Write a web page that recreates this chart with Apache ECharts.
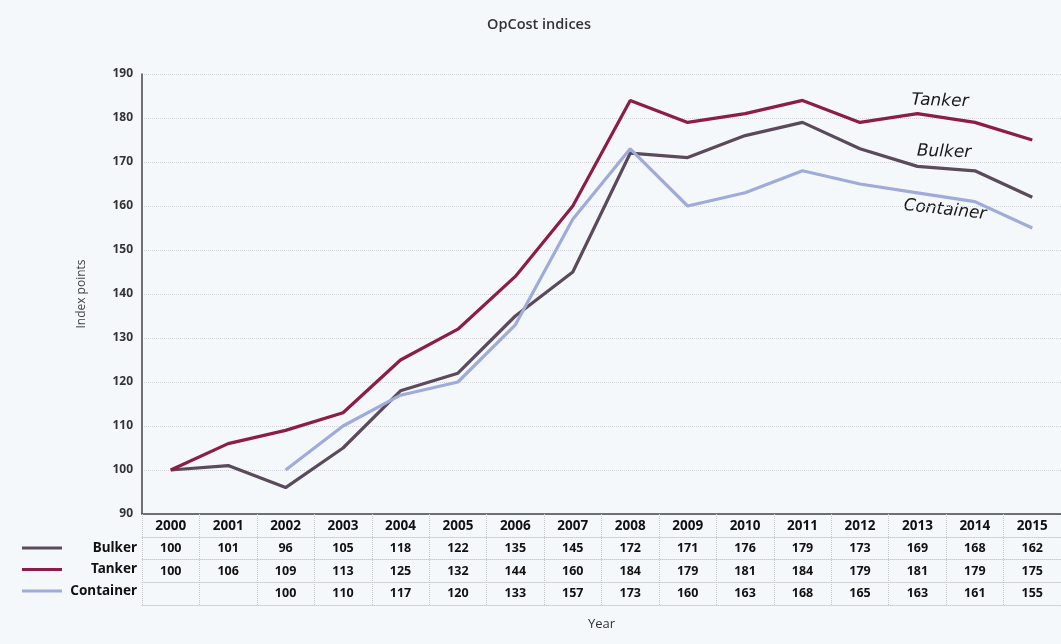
<!DOCTYPE html>
<html>
<head>
<meta charset="utf-8">
<script src="https://cdn.jsdelivr.net/npm/echarts@6/dist/echarts.min.js"></script>
<style>
  html, body { margin: 0; padding: 0; background: #f5f8fb; }
  #chart { width: 1061px; height: 644px; }
</style>
</head>
<body>
<div id="chart"></div>
<script>
// Operating cost indices by ship type, 2000–2015
const years = ['2000','2001','2002','2003','2004','2005','2006','2007','2008','2009','2010','2011','2012','2013','2014','2015'];
const bulker    = [100, 101, 96, 105, 118, 122, 135, 145, 172, 171, 176, 179, 173, 169, 168, 162];
const tanker    = [100, 106, 109, 113, 125, 132, 144, 160, 184, 179, 181, 184, 179, 181, 179, 175];
const container = [null, null, 100, 110, 117, 120, 133, 157, 173, 160, 163, 168, 165, 163, 161, 155];
const seriesNames = ['Bulker', 'Tanker', 'Container'];
const yTicks = { min: 90, max: 190, step: 10 };

const colors = ['#5a4a5c', '#8c1d45', '#9fabd8'];
const rows = [bulker, tanker, container];
const yearFont = { fontFamily: 'Noto Sans', fontWeight: 'bold', fontSize: 13.5, color: '#111' };
const valueFont = { fontFamily: 'Noto Sans', fontWeight: 'bold', fontSize: 12.5, color: '#111' };
const rowLine = { show: true, lineStyle: { color: '#c9cbd0', type: 'dotted', width: 1 } };

const chart = echarts.init(document.getElementById('chart'));

// Main category axis plus one offset axis per table row
const xAxes = [{
  type: 'category', data: years, boundaryGap: true, position: 'bottom',
  name: 'Year', nameLocation: 'middle', nameGap: 104,
  nameTextStyle: { fontFamily: 'Open Sans', fontSize: 13, color: '#333' },
  axisLine: { lineStyle: { color: '#444', width: 1.5 } },
  axisTick: { show: true, interval: 0, length: 91, lineStyle: { color: '#c4c6cb', type: 'dotted' } },
  axisLabel: Object.assign({ margin: 5, interval: 0 }, yearFont),
  splitLine: { show: false }
}];
rows.forEach((vals, r) => {
  xAxes.push({
    type: 'category', data: years, position: 'bottom', offset: 23 + r * 22.5,
    axisLine: rowLine, axisTick: { show: false },
    axisLabel: Object.assign({ margin: 5, interval: 0,
      formatter: (v, i) => (vals[i] == null ? '' : String(vals[i])) }, valueFont)
  });
});
xAxes.push({
  type: 'category', data: years, position: 'bottom', offset: 91,
  axisLine: rowLine, axisTick: { show: false }, axisLabel: { show: false }
});

// Row titles with line samples to the left of the table
const legendGraphics = [];
seriesNames.forEach((n, r) => {
  const cy = 548 + r * 21.5;
  legendGraphics.push({
    type: 'line', shape: { x1: 22, y1: cy, x2: 62, y2: cy },
    style: { stroke: colors[r], lineWidth: 3 }
  });
  legendGraphics.push({
    type: 'text', x: 137, y: cy,
    style: { text: n, align: 'right', verticalAlign: 'middle',
      font: 'bold 13.5px "Noto Sans"', fill: '#111' }
  });
});

// Hand-lettered series tags at the right end of the lines
const tagFont = 'italic 17px "DejaVu Sans"';
const tags = [
  { text: 'Tanker', x: 940, y: 101, rotation: -0.03 },
  { text: 'Bulker', x: 944, y: 152, rotation: -0.03 },
  { text: 'Container', x: 945, y: 210, rotation: -0.11 }
].map(t => ({
  type: 'text', x: t.x, y: t.y, rotation: t.rotation,
  style: { text: t.text, align: 'center', verticalAlign: 'middle', font: tagFont, fill: '#1a1a1a' }
}));

chart.setOption({
  backgroundColor: '#f5f8fb',
  animation: false,
  title: {
    text: 'OpCost indices', left: 534, top: 12, textAlign: 'center',
    textStyle: { fontFamily: 'Open Sans', fontSize: 14.5, fontWeight: 600, color: '#333' }
  },
  grid: { left: 142, right: -3, top: 74, bottom: 130, containLabel: false },
  xAxis: xAxes,
  yAxis: {
    type: 'value', min: yTicks.min, max: yTicks.max, interval: yTicks.step,
    name: 'Index points', nameLocation: 'middle', nameGap: 54, nameRotate: 90,
    nameTextStyle: { fontFamily: 'Open Sans', fontSize: 12, color: '#444' },
    axisLine: { show: true, lineStyle: { color: '#444', width: 1.5 } },
    axisTick: { show: false },
    axisLabel: { margin: 9, fontFamily: 'Noto Sans', fontWeight: 'bold', fontSize: 12, color: '#333' },
    splitLine: { show: true, lineStyle: { color: '#d3d5da', type: 'dotted' } }
  },
  graphic: legendGraphics.concat(tags),
  series: seriesNames.map((n, r) => ({
    name: n, type: 'line', data: rows[r], xAxisIndex: 0,
    showSymbol: false, smooth: false, connectNulls: false,
    lineStyle: { color: colors[r], width: 3.2 }, itemStyle: { color: colors[r] },
    z: r === 1 ? 3 : 2
  }))
});
</script>
</body>
</html>
